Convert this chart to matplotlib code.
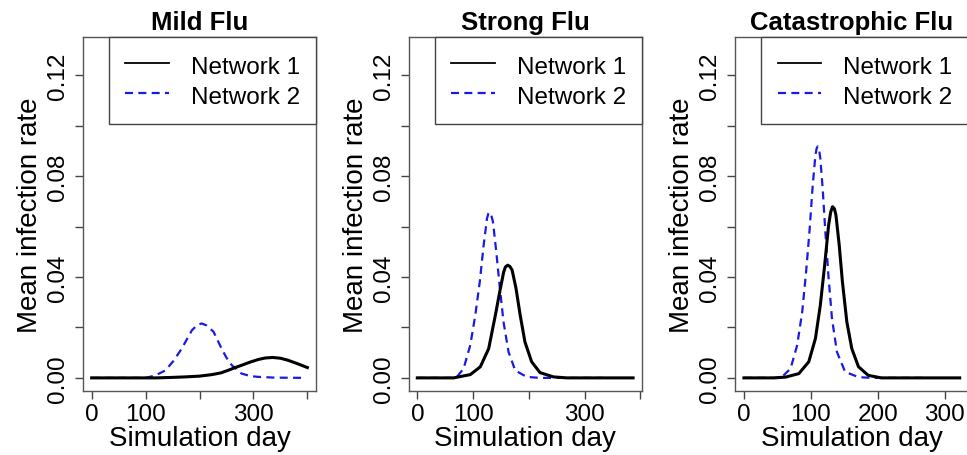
import matplotlib.pyplot as plt
from matplotlib.lines import Line2D

plt.rcParams['font.family'] = ['Liberation Sans', 'DejaVu Sans']

# values: (day, mean infection rate)
mild_day_1 = [0, 120, 150, 174, 200, 223, 240, 253, 265, 278, 293, 309, 322, 336, 350, 364, 382, 400]
mild_rate_1 = [0, 0, 0.0002, 0.0004, 0.0007, 0.0013, 0.002, 0.003, 0.004, 0.005, 0.0062,
               0.0073, 0.0079, 0.0081, 0.0078, 0.0070, 0.0056, 0.0041]
mild_day_2 = [0, 100, 115, 126, 137, 152, 167, 186, 196, 204, 213, 226, 241, 250, 260, 278,
              295, 309, 340, 398]
mild_rate_2 = [0, 0, 0.0008, 0.0018, 0.0030, 0.0068, 0.0116, 0.0189, 0.0210, 0.0216, 0.0208,
               0.0183, 0.0116, 0.0080, 0.0050, 0.0017, 0.0007, 0.0004, 0.0001, 0]

strong_day_1 = [0, 65, 95, 113, 128, 140, 149, 155, 158, 162, 166, 170, 177, 184.5, 193, 205,
                220, 244, 268, 387]
strong_rate_1 = [0, 0, 0.0013, 0.0044, 0.0116, 0.0249, 0.0355, 0.0421, 0.0440, 0.0447, 0.0442,
                 0.0428, 0.0355, 0.0249, 0.0143, 0.0064, 0.0021, 0.0004, 0, 0]
strong_day_2 = [0, 60, 71, 83, 95, 104, 112, 119, 125, 127.5, 129.6, 132, 135.6, 141.6, 147.5,
                154.6, 163.6, 175.5, 196, 220, 333]
strong_rate_2 = [0, 0, 0.0004, 0.0037, 0.0130, 0.0249, 0.0381, 0.0527, 0.0633, 0.0652, 0.0657,
                 0.0650, 0.0620, 0.0501, 0.0368, 0.0222, 0.0103, 0.0030, 0.0004, 0, 0]

cat_day_1 = [0, 45, 62, 82, 96.8, 106.7, 114, 120.5, 126.4, 129.5, 132.3, 135, 137.3, 142.2,
             147, 153.6, 161, 171, 185.6, 205, 322]
cat_rate_1 = [0, 0, 0.0003, 0.0017, 0.0064, 0.0156, 0.0288, 0.0447, 0.0606, 0.0658, 0.0679,
              0.0671, 0.0646, 0.0527, 0.0381, 0.0222, 0.0116, 0.0044, 0.001, 0, 0]
cat_day_2 = [0, 45, 57, 69.6, 79.5, 87, 92.8, 97.8, 102.7, 106.7, 108.5, 110, 112, 114, 117.5,
             121.5, 126.4, 131.4, 138.8, 151, 171, 190, 268]
cat_rate_2 = [0, 0, 0.0004, 0.0037, 0.0130, 0.0262, 0.0421, 0.0580, 0.0765, 0.0884, 0.0910,
              0.0918, 0.0908, 0.0871, 0.0752, 0.0580, 0.0395, 0.0236, 0.0103, 0.0024, 0.0003,
              0, 0]

titles = ['Mild Flu', 'Strong Flu', 'Catastrophic Flu']
series = [
    (mild_day_1, mild_rate_1, mild_day_2, mild_rate_2),
    (strong_day_1, strong_rate_1, strong_day_2, strong_rate_2),
    (cat_day_1, cat_rate_1, cat_day_2, cat_rate_2),
]
x_ticks = [[0, 100, 200, 300, 400], [0, 100, 200, 300, 400], [0, 100, 200, 300]]
x_labels = [['0', '100', '', '300', ''], ['0', '100', '', '300', ''], ['0', '100', '200', '300']]
y_ticks = [0, 0.02, 0.04, 0.06, 0.08, 0.10, 0.12]
y_labels = ['0.00', '', '0.04', '', '0.08', '', '0.12']

blue = '#1a1ae6'
dash = (0, (3.6, 2.4))
lefts = [83 / 967, 408.7 / 967, 735.3 / 967]

fig = plt.figure(figsize=(9.67, 4.56), dpi=100)
for i in range(3):
    d1, r1, d2, r2 = series[i]
    ax = fig.add_axes([lefts[i], 1 - 392 / 456, 233 / 967, 354 / 456])
    ax.plot(d2, r2, color=blue, lw=1.6, linestyle=dash)
    ax.plot(d1, r1, color='black', lw=2.2)
    xmax = max(d1[-1], d2[-1])
    ax.set_xlim(-0.04 * xmax, 1.04 * xmax)
    ax.set_ylim(-0.0052, 0.1352)
    ax.set_xticks(x_ticks[i])
    ax.set_xticklabels(x_labels[i])
    ax.set_yticks(y_ticks)
    ax.set_yticklabels(y_labels, rotation=90, va='center')
    ax.tick_params(direction='out', length=6, width=1, colors='#444444', labelsize=17.5,
                   labelcolor='black')
    ax.tick_params(axis='y', pad=4)
    ax.tick_params(axis='x', pad=3)
    for s in ax.spines.values():
        s.set_color('#555555')
        s.set_linewidth(1)
    ax.set_xlabel('Simulation day', fontsize=20, labelpad=0)
    ax.set_ylabel('Mean infection rate', fontsize=20, labelpad=3)
    ax.set_title(titles[i], fontsize=18.5, fontweight='bold', pad=6)
    handles = [Line2D([], [], color='black', lw=1.3),
               Line2D([], [], color=blue, lw=1.6, linestyle=dash)]
    leg = ax.legend(handles, ['Network 1', 'Network 2'], loc='upper right',
                    borderaxespad=0, fontsize=17.5, fancybox=False, framealpha=1,
                    edgecolor='#444444', handlelength=1.8, handletextpad=0.9,
                    borderpad=0.66, labelspacing=0.17, handleheight=1.15)
    leg.get_frame().set_linewidth(1)

fig.savefig('out.png', dpi=100)
